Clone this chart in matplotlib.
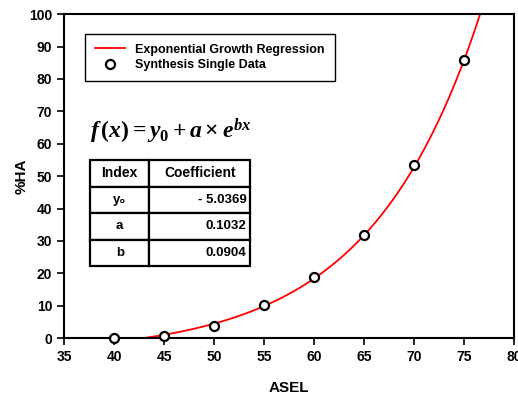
import numpy as np
import matplotlib
matplotlib.use("Agg")
import matplotlib.pyplot as plt

plt.rcParams['font.family'] = ['Liberation Sans', 'DejaVu Sans']
plt.rcParams['font.weight'] = 'bold'
plt.rcParams['mathtext.fontset'] = 'custom'
plt.rcParams['mathtext.it'] = 'Liberation Serif:bold:italic'
plt.rcParams['mathtext.rm'] = 'Liberation Serif:bold'

# measured data
asel = [40, 45, 50, 55, 60, 65, 70, 75]
pct_ha = [0.0, 0.6, 3.7, 10.2, 18.8, 31.8, 53.4, 85.8]

# fitted coefficients shown in the table
idx_labels = ['y\u2080', 'a', 'b']
coef_vals = [-5.0369, 0.1032, 0.0904]
coef_text = ['- 5.0369', '0.1032', '0.0904']

fig = plt.figure(figsize=(5.18, 3.94), dpi=100)
ax = fig.add_axes([0.1236, 0.142, 0.8687, 0.822])

# regression curve from the table coefficients
y0, a, b = coef_vals
xs = np.linspace(35, 80, 600)
ys = y0 + a * np.exp(b * xs)
mask = (ys >= 0) & (ys <= 101)
ax.plot(xs[mask], ys[mask], color='red', lw=1.3, label='Exponential Growth Regression', zorder=2)
ax.plot(asel, pct_ha, 'o', ms=6.5, mfc='white', mec='black', mew=1.6,
        label='Synthesis Single Data', zorder=3, clip_on=False)

ax.set_xlim(35, 80)
ax.set_ylim(0, 100)
ax.set_xticks(range(35, 81, 5))
ax.set_yticks(range(0, 101, 10))
ax.tick_params(direction='out', length=5, width=1.2, labelsize=10, top=False, right=False)
for lab in ax.get_xticklabels() + ax.get_yticklabels():
    lab.set_fontweight('bold')
for sp in ax.spines.values():
    sp.set_linewidth(1.5)

ax.set_xlabel('ASEL', fontsize=11, fontweight='bold', labelpad=12)
ax.set_ylabel('%HA', fontsize=11, fontweight='bold', labelpad=0)

leg = ax.legend(loc='upper left', bbox_to_anchor=(0.047, 0.94), borderaxespad=0,
                fancybox=False, framealpha=1, edgecolor='black',
                prop={'size': 9, 'weight': 'bold'},
                handlelength=2.4, handletextpad=0.8, borderpad=0.8, labelspacing=0.3)
leg.get_frame().set_linewidth(1.0)

ax.text(0.058, 0.64, r'$f\,(x) = y_0 + a \times e^{bx}$', transform=ax.transAxes,
        fontsize=17, va='center', ha='left')

rows = [[lab, txt] for lab, txt in zip(idx_labels, coef_text)]
tbl = ax.table(cellText=rows, colLabels=['Index', 'Coefficient'],
               colWidths=[0.37, 0.63], bbox=[0.058, 0.222, 0.356, 0.327],
               cellLoc='center')
tbl.auto_set_font_size(False)
for (r, c), cell in tbl.get_celld().items():
    cell.set_linewidth(1.6)
    cell.set_edgecolor('black')
    t = cell.get_text()
    t.set_fontweight('bold')
    t.set_fontsize(10 if r == 0 else 9.5)
    if r > 0 and c == 1:
        t.set_horizontalalignment('right')
        cell.PAD = 0.04

fig.savefig('out.png', dpi=100)
